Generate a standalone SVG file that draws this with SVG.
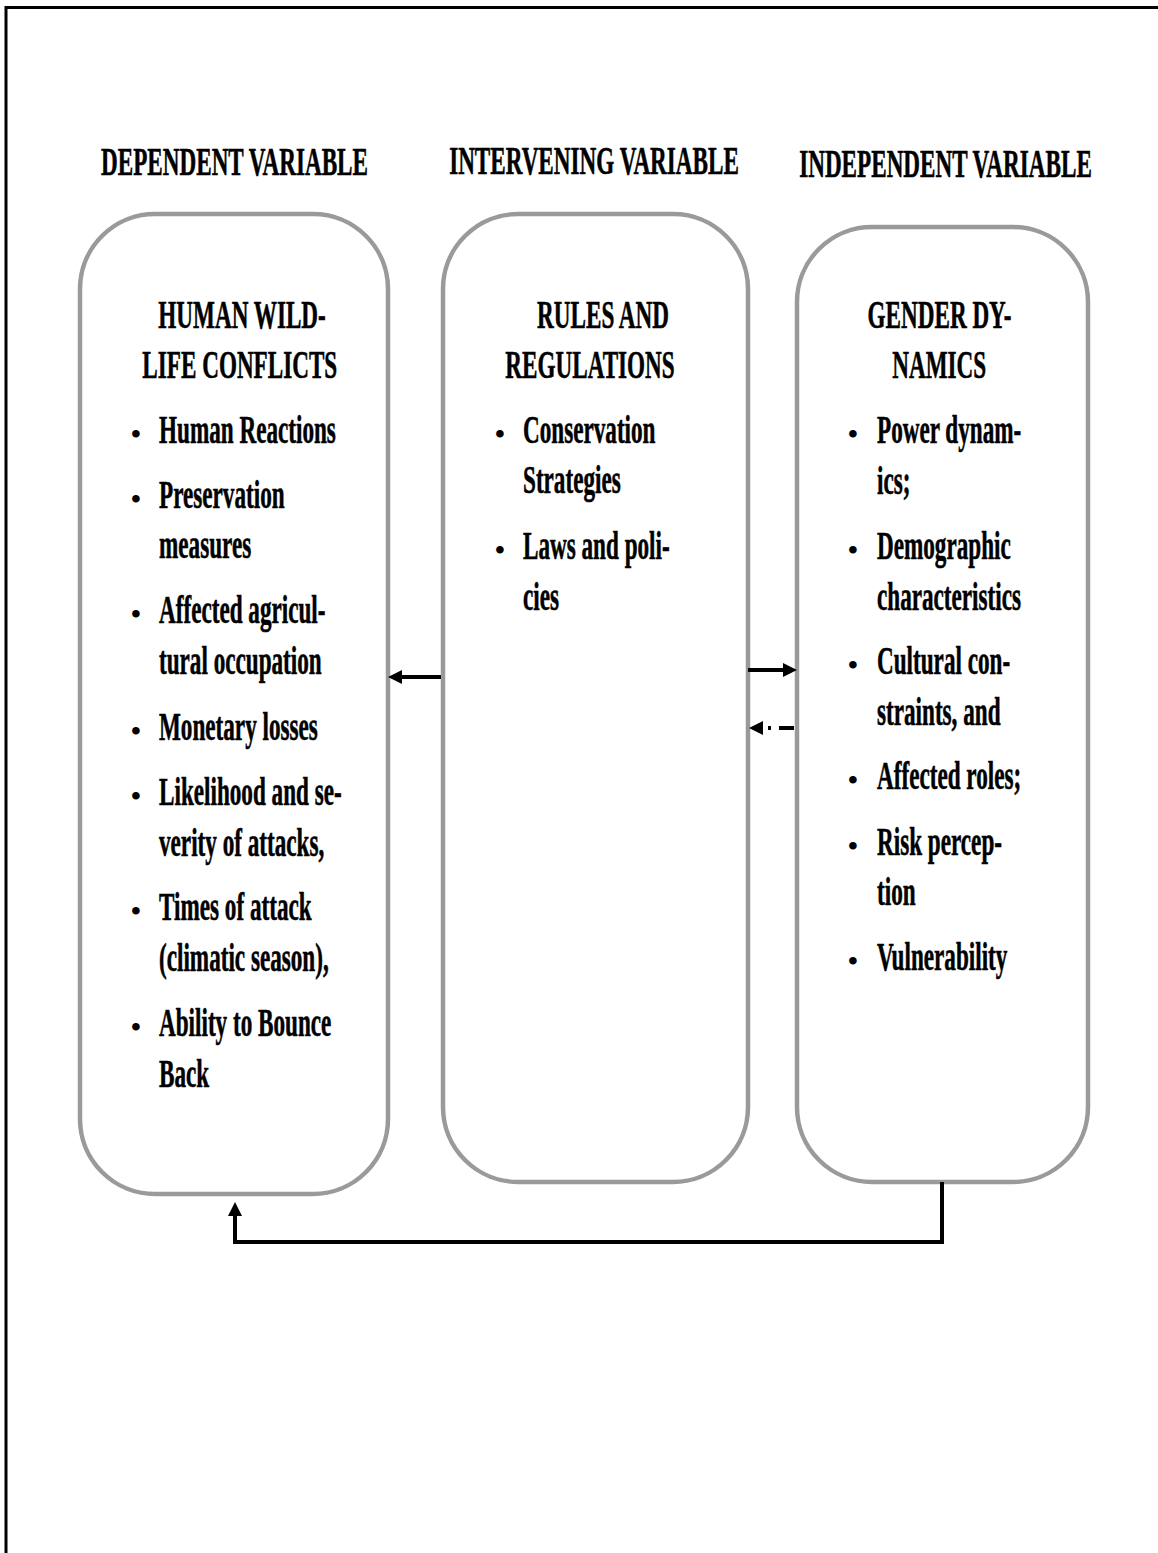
<svg xmlns="http://www.w3.org/2000/svg" width="1158" height="1553" viewBox="0 0 1158 1553">
<style>
.t{font-family:"Liberation Serif","Times New Roman",serif;font-weight:bold;font-size:41px;fill:#000;stroke:#000;stroke-width:0.6px}
.b{font-family:"Liberation Serif","Times New Roman",serif;font-weight:bold;font-size:28px;fill:#000;text-anchor:middle}
.c{text-anchor:middle}
.box{fill:#fff;stroke:#9a9a9a;stroke-width:4.5}
.ln{fill:none;stroke:#000;stroke-width:4}
</style>
<defs>
<marker id="ah" markerUnits="userSpaceOnUse" markerWidth="15" markerHeight="14" refX="5" refY="7" orient="auto">
<path d="M0,0 L14,7 L0,14 z" fill="#000"/>
</marker>
</defs>
<rect width="1158" height="1553" fill="#fff"/>
<path d="M6,1553 V7.5 H1158" fill="none" stroke="#000" stroke-width="3"/>

<g id="headers" class="t">
<text class="c" transform="translate(234.5,175) scale(0.565,1)">DEPENDENT VARIABLE</text>
<text class="c" transform="translate(594,174) scale(0.565,1)">INTERVENING VARIABLE</text>
<text class="c" transform="translate(945.5,177) scale(0.565,1)">INDEPENDENT VARIABLE</text>
</g>

<g id="node-dependent">
<rect class="box" x="80" y="214" width="308" height="980" rx="75" ry="75"/>
<g class="t" transform="translate(159,0) scale(0.565,1)">
<text class="c" x="147" y="328">HUMAN WILD-</text>
<text class="c" x="143" y="378">LIFE CONFLICTS</text>
<text x="0" y="443">Human Reactions</text>
<text x="0" y="508">Preservation</text>
<text x="0" y="558">measures</text>
<text x="0" y="623">Affected agricul-</text>
<text x="0" y="674">tural occupation</text>
<text x="0" y="740">Monetary losses</text>
<text x="0" y="805">Likelihood and se-</text>
<text x="0" y="856">verity of attacks,</text>
<text x="0" y="920">Times of attack</text>
<text x="0" y="971">(climatic season),</text>
<text x="0" y="1036">Ability to Bounce</text>
<text x="0" y="1087">Back</text>
</g>
<g class="b">
<text x="136" y="443">•</text>
<text x="136" y="508">•</text>
<text x="136" y="623">•</text>
<text x="136" y="740">•</text>
<text x="136" y="805">•</text>
<text x="136" y="920">•</text>
<text x="136" y="1036">•</text>
</g>
</g>

<g id="node-intervening">
<rect class="box" x="443" y="214" width="305" height="968" rx="75" ry="75"/>
<g class="t" transform="translate(523,0) scale(0.565,1)">
<text class="c" x="141.6" y="328">RULES AND</text>
<text class="c" x="118.6" y="378">REGULATIONS</text>
<text x="0" y="443">Conservation</text>
<text x="0" y="493">Strategies</text>
<text x="0" y="559">Laws and poli-</text>
<text x="0" y="610">cies</text>
</g>
<g class="b">
<text x="500" y="443">•</text>
<text x="500" y="559">•</text>
</g>
</g>

<g id="node-independent">
<rect class="box" x="797" y="227" width="291" height="955" rx="75" ry="75"/>
<g class="t" transform="translate(877,0) scale(0.565,1)">
<text class="c" x="110.6" y="328">GENDER DY-</text>
<text class="c" x="110" y="378">NAMICS</text>
<text x="0" y="443">Power dynam-</text>
<text x="0" y="494">ics;</text>
<text x="0" y="559">Demographic</text>
<text x="0" y="610">characteristics</text>
<text x="0" y="674">Cultural con-</text>
<text x="0" y="725">straints, and</text>
<text x="0" y="789">Affected roles;</text>
<text x="0" y="855">Risk percep-</text>
<text x="0" y="905">tion</text>
<text x="0" y="970">Vulnerability</text>
</g>
<g class="b">
<text x="853" y="443">•</text>
<text x="853" y="559">•</text>
<text x="853" y="674">•</text>
<text x="853" y="789">•</text>
<text x="853" y="855">•</text>
<text x="853" y="970">•</text>
</g>
</g>

<g id="connectors">
<line class="ln" x1="441" y1="677" x2="397" y2="677" marker-end="url(#ah)"/>
<line class="ln" x1="748" y1="670" x2="788" y2="670" marker-end="url(#ah)"/>
<line class="ln" x1="794" y1="728" x2="758" y2="728" stroke-dasharray="15 8 3 8" marker-end="url(#ah)"/>
<path class="ln" d="M942,1182 V1242 H235 V1211" marker-end="url(#ah)"/>
</g>
</svg>
